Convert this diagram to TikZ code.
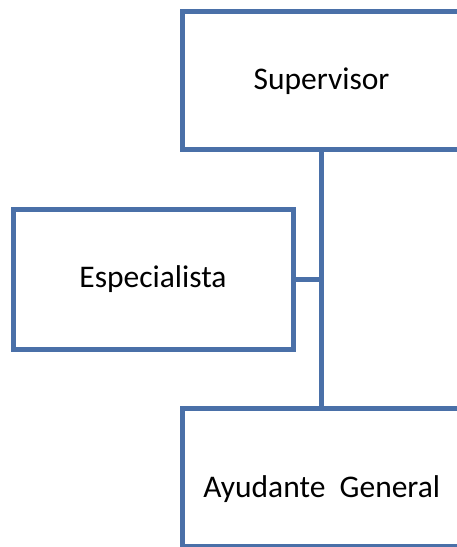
\documentclass[tikz,border=0pt]{standalone}
\usepackage{fontspec}
\setmainfont{Carlito}
\definecolor{boxblue}{RGB}{74,112,168}
\begin{document}
\begin{tikzpicture}[x=1pt,y=1pt,
  orgbox/.style={draw=boxblue, line width=5pt, fill=white, rectangle, inner sep=0pt, outer sep=0pt},
  orgtext/.style={anchor=base, inner sep=0pt, font=\fontsize{31.5}{36}\selectfont, text=black},
  link/.style={draw=boxblue, line width=5pt}]
\clip (0,0) rectangle (457,-547);
\fill[white] (0,0) rectangle (457,-547);
% boxes
\node[orgbox, minimum width=278.5pt, minimum height=138.5pt] (sup) at (321.75,-80.25) {};
\node[orgbox, minimum width=280.5pt, minimum height=140pt] (esp) at (153.25,-279) {};
\node[orgbox, minimum width=278.5pt, minimum height=138pt] (ayu) at (321.75,-477) {};
% connectors
\draw[link] (sup.south) -- (ayu.north);
\draw[link] (esp.east) -- (esp.east -| sup.south);
% texts
\node[orgtext] (suptxt) at (321.5,-89) {Supervisor};
\node[orgtext] (esptxt) at (153,-287.5) {Especialista};
\node[orgtext] (ayutxt) at (321.7,-497) {Ayudante\ \ General};
\end{tikzpicture}
\end{document}
